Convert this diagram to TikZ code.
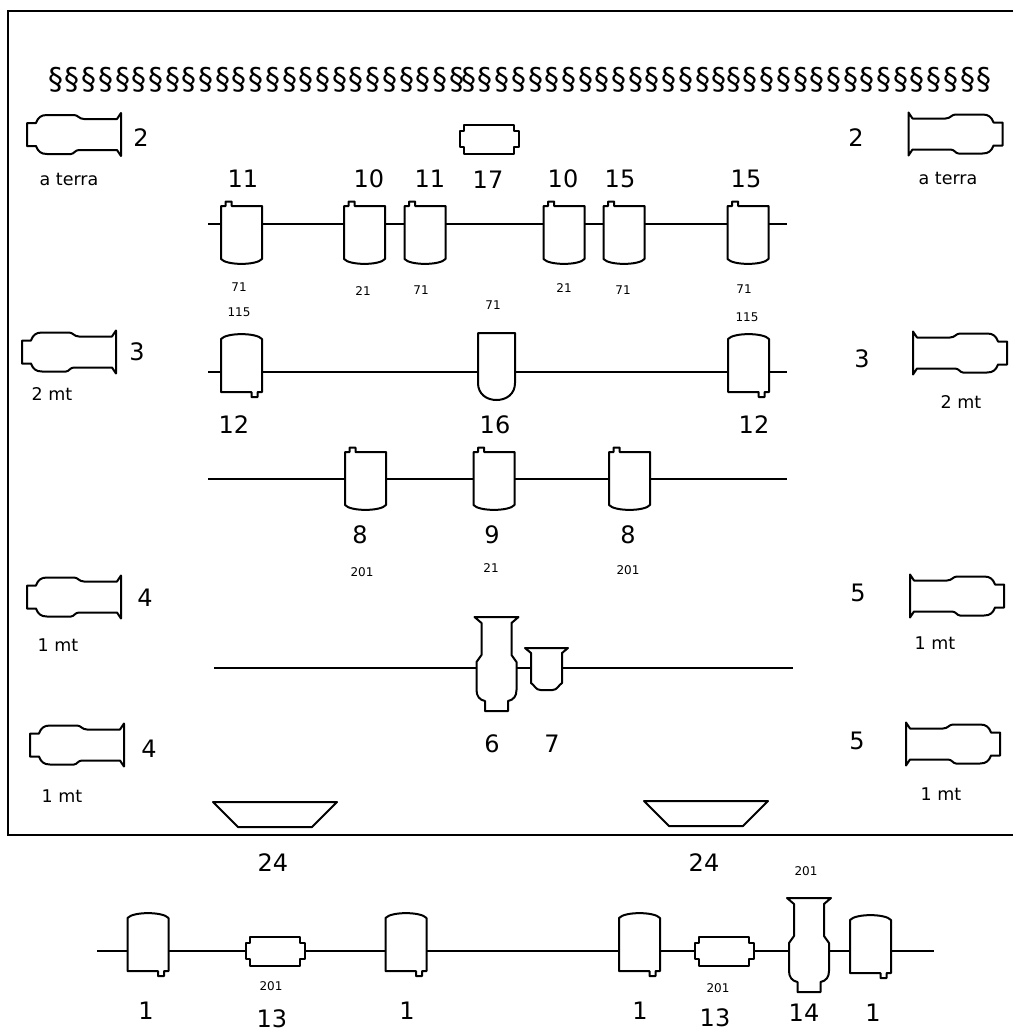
\documentclass[tikz,border=0pt]{standalone}
\usepackage{fontspec}
\setmainfont{DejaVu Sans}
\newfontfamily\markfont[LetterSpace=5.7]{DejaVu Sans}
\usetikzlibrary{positioning}
\tikzstyle{pipe} = [line width=2pt]
\tikzstyle{outline} = [line width=2pt, fill=white, line join=round]
\tikzstyle{port} = [minimum width=#1, minimum height=2pt, inner sep=0pt, outer sep=0pt]
\tikzstyle{num} = [inner sep=0pt, font=\fontsize{24}{24}\selectfont]
\tikzstyle{note} = [inner sep=0pt, font=\fontsize{17.5}{18}\selectfont]
\tikzstyle{tiny} = [inner sep=0pt, font=\fontsize{12}{12}\selectfont]
\tikzstyle{marks} = [inner sep=0pt, anchor=west, font=\fontsize{30}{30}\markfont]
\tikzset{
  flask/.pic={\draw [outline] (-47,-11.5) -- (-38,-11.5) .. controls (-36,-17) and (-33,-19.5) .. (-27,-19.5)
    -- (0,-19.5) .. controls (4,-19.5) and (5,-15.5) .. (10,-15.5) -- (43,-15.5) -- (47,-21.5) -- (47,21.5)
    -- (43,15.5) -- (5,15.5) .. controls (1,15.5) and (0,19.5) .. (-3,19.5) -- (-27,19.5)
    .. controls (-33,19.5) and (-36,17) .. (-38,11.5) -- (-47,11.5) -- cycle;},
  drum/.pic={\draw [outline] (-20.5,-18) -- (-16,-18) -- (-16,-22.5) -- (-10,-22.5) -- (-10,-18) -- (20.5,-18)
    -- (20.5,35) .. controls (15,41.5) and (-15,41.5) .. (-20.5,35) -- cycle;},
  drumrev/.pic={\draw [outline] (-20.5,-33) .. controls (-15,-39.5) and (15,-39.5) .. (20.5,-33)
    -- (20.5,20) -- (16,20) -- (16,25) -- (10,25) -- (10,20) -- (-20.5,20) -- cycle;},
  cup/.pic={\draw [outline] (-18.5,-39) -- (18.5,-39) -- (18.5,11) .. controls (18.5,22) and (10,28) .. (0,28)
    .. controls (-10,28) and (-18.5,22) .. (-18.5,11) -- cycle;},
  tallflask/.pic={\draw [outline] (-22,-51) -- (22,-51) -- (15,-45) -- (15,-13) -- (20,-6) -- (20,22)
    .. controls (20,28) and (17,32) .. (11.5,33) -- (11.5,43) -- (-11.5,43) -- (-11.5,33)
    .. controls (-17,32) and (-20,28) .. (-20,22) -- (-20,-6) -- (-15,-13) -- (-15,-45) -- cycle;},
  smallcup/.pic={\draw [outline] (-21.5,-20) -- (21.5,-20) -- (15.5,-15) -- (15.5,15) .. controls (12,17) and (11,22) .. (6,22)
    -- (-6,22) .. controls (-11,22) and (-12,17) .. (-15.5,15) -- (-15.5,-15) -- cycle;},
  tube/.pic={\draw [outline] (-25,-14.5) -- (25,-14.5) -- (25,-8) -- (29.5,-8) -- (29.5,8) -- (25,8) -- (25,14.5)
    -- (-25,14.5) -- (-25,8) -- (-29.5,8) -- (-29.5,-8) -- (-25,-8) -- cycle;},
  tray/.pic={\draw [outline] (-62,-12.5) -- (62,-12.5) -- (37,12.5) -- (-37,12.5) -- cycle;}
}

\begin{document}
\begin{tikzpicture}[x=1pt,y=-1pt]
    \useasboundingbox (0,0) rectangle (1013,1033);
    \draw [line width=2pt] (1013,11) -- (8,11) -- (8,835) -- (1013,835);

    % header marks
    \node [marks] (marksa) at (48,80) {§§§§§§§§§§§§§§§§§§§§§§§§§};
    \node [marks] (marksb) at (461,80) {§§§§§§§§§§§§§§§§};
    \node [marks] (marksc) at (726,80) {§§§§§§§§§§§§§§§§};

    % flasks at the sides
    \pic at (74,134.5) {flask};
    \pic at (69,352) {flask};
    \pic at (74,597) {flask};
    \pic at (77,745) {flask};
    \pic [xscale=-1] at (955.5,134) {flask};
    \pic [xscale=-1] at (960,353) {flask};
    \pic [xscale=-1] at (957,596) {flask};
    \pic [xscale=-1] at (953,744) {flask};
    \node [num] (sidea) at (141,138) {2};
    \node [note] (terraa) at (69,179) {a terra};
    \node [num] (sideb) at (137,352) {3};
    \node [note] (mta) at (52,394) {2 mt};
    \node [num] (sidec) at (145,598) {4};
    \node [note] (mtb) at (58,645) {1 mt};
    \node [num] (sided) at (149,749) {4};
    \node [note] (mtc) at (62,796) {1 mt};
    \node [num] (sidee) at (856,138) {2};
    \node [note] (terrab) at (948,178) {a terra};
    \node [num] (sidef) at (862,359) {3};
    \node [note] (mtd) at (961,402) {2 mt};
    \node [num] (sideg) at (858,593) {5};
    \node [note] (mte) at (935,643) {1 mt};
    \node [num] (sideh) at (857,741) {5};
    \node [note] (mtf) at (941,794) {1 mt};

    % first row
    \pic at (489,139) {tube};
    \node [num] (lbuf) at (488,180) {17};
    \coordinate (rowaleft) at (208,224);
    \coordinate (rowaright) at (787,224);
    \node [port=41] (aa) at (241.5,224) {};
    \node [port=41] (ab) at (364.5,224) {};
    \node [port=41] (ac) at (425,224) {};
    \node [port=41] (ad) at (564,224) {};
    \node [port=41] (ae) at (624,224) {};
    \node [port=41] (af) at (748,224) {};
    \pic at (aa) {drum};
    \pic at (ab) {drum};
    \pic at (ac) {drum};
    \pic at (ad) {drum};
    \pic at (ae) {drum};
    \pic at (af) {drum};
    \draw [pipe] (rowaleft) -- (aa);
    \draw [pipe] (aa) -- (ab);
    \draw [pipe] (ab) -- (ac);
    \draw [pipe] (ac) -- (ad);
    \draw [pipe] (ad) -- (ae);
    \draw [pipe] (ae) -- (af);
    \draw [pipe] (af) -- (rowaright);
    \node [num] (la) at (243,179) {11};
    \node [num] (lb) at (369,179) {10};
    \node [num] (lc) at (430,179) {11};
    \node [num] (ld) at (563,179) {10};
    \node [num] (le) at (620,179) {15};
    \node [num] (lf) at (746,179) {15};
    \node [tiny] (ta) at (239,287) {71};
    \node [tiny] (tb) at (363,291) {21};
    \node [tiny] (tc) at (421,290) {71};
    \node [tiny] (td) at (564,288) {21};
    \node [tiny] (te) at (623,290) {71};
    \node [tiny] (tf) at (744,289) {71};

    % second row
    \coordinate (rowbleft) at (208,372);
    \coordinate (rowbright) at (787,372);
    \node [port=41] (ba) at (241.5,372) {};
    \node [port=37] (bb) at (496.5,372) {};
    \node [port=41] (bc) at (748.5,372) {};
    \pic at (ba) {drumrev};
    \pic at (bb) {cup};
    \pic at (bc) {drumrev};
    \draw [pipe] (rowbleft) -- (ba);
    \draw [pipe] (ba) -- (bb);
    \draw [pipe] (bb) -- (bc);
    \draw [pipe] (bc) -- (rowbright);
    \node [tiny] (tg) at (239,312) {115};
    \node [tiny] (th) at (493,305) {71};
    \node [tiny] (ti) at (747,317) {115};
    \node [num] (lg) at (234,425) {12};
    \node [num] (lh) at (495,425) {16};
    \node [num] (li) at (754,425) {12};

    % third row
    \coordinate (rowcleft) at (208,478.5);
    \coordinate (rowcright) at (787,478.5);
    \node [port=41] (ca) at (365.5,478.5) {};
    \node [port=41] (cb) at (494,478.5) {};
    \node [port=41] (cc) at (629.5,478.5) {};
    \pic at (365.5,470) {drum};
    \pic at (494,470) {drum};
    \pic at (629.5,470) {drum};
    \draw [pipe] (rowcleft) -- (ca);
    \draw [pipe] (ca) -- (cb);
    \draw [pipe] (cb) -- (cc);
    \draw [pipe] (cc) -- (rowcright);
    \node [num] (lj) at (360,535) {8};
    \node [num] (lk) at (492,535) {9};
    \node [num] (ll) at (628,535) {8};
    \node [tiny] (tj) at (362,572) {201};
    \node [tiny] (tk) at (491,568) {21};
    \node [tiny] (tl) at (628,570) {201};

    % fourth row
    \coordinate (rowdleft) at (214,668);
    \coordinate (rowdright) at (793,668);
    \node [port=40] (da) at (496.5,668) {};
    \node [port=31] (db) at (546.5,668) {};
    \pic at (da) {tallflask};
    \pic at (db) {smallcup};
    \draw [pipe] (rowdleft) -- (da);
    \draw [pipe] (da) -- (db);
    \draw [pipe] (db) -- (rowdright);
    \node [num] (lm) at (492,744) {6};
    \node [num] (ln) at (552,744) {7};

    % trays
    \pic at (275,814.5) {tray};
    \pic at (706,813.5) {tray};
    \node [num] (lo) at (273,863) {24};
    \node [num] (lp) at (704,863) {24};

    % bottom row, below the frame
    \coordinate (rowlow) at (97,951);
    \coordinate (rowhigh) at (934,951);
    \node [port=41] (ea) at (148,951) {};
    \node [port=59] (eb) at (275,951) {};
    \node [port=41] (ec) at (406,951) {};
    \node [port=41] (ed) at (639.5,951) {};
    \node [port=59] (ee) at (724,951) {};
    \node [port=40] (ef) at (809,951) {};
    \node [port=41] (eg) at (870.5,951) {};
    \pic at (ea) {drumrev};
    \pic at (eb) {tube};
    \pic at (ec) {drumrev};
    \pic at (ed) {drumrev};
    \pic at (ee) {tube};
    \pic at (809,949) {tallflask};
    \pic at (870.5,953) {drumrev};
    \draw [pipe] (rowlow) -- (ea);
    \draw [pipe] (ea) -- (eb);
    \draw [pipe] (eb) -- (ec);
    \draw [pipe] (ec) -- (ed);
    \draw [pipe] (ed) -- (ee);
    \draw [pipe] (ee) -- (ef);
    \draw [pipe] (ef) -- (eg);
    \draw [pipe] (eg) -- (rowhigh);
    \node [tiny] (tm) at (806,871) {201};
    \node [tiny] (tn) at (271,986) {201};
    \node [tiny] (to) at (718,988) {201};
    \node [num] (lq) at (146,1011) {1};
    \node [num] (lr) at (272,1019) {13};
    \node [num] (ls) at (407,1011) {1};
    \node [num] (lt) at (640,1011) {1};
    \node [num] (lu) at (715,1018) {13};
    \node [num] (lv) at (804,1013) {14};
    \node [num] (lw) at (873,1013) {1};
\end{tikzpicture}
\end{document}
